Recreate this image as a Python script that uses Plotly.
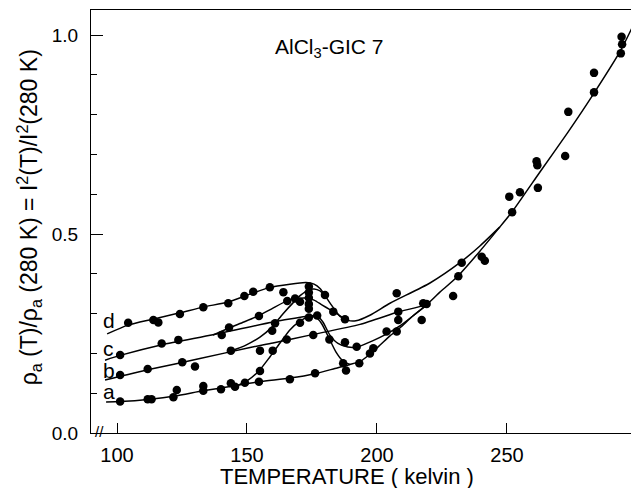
import plotly.graph_objects as go

# ---------------- data ----------------
# temperature (K) and normalized resistivity rho_a(T)/rho_a(280 K)
dot_T = [104.3, 114.0, 115.9, 124.2, 133.2, 142.8, 149.0, 152.4, 158.8,
         101.2, 117.2, 123.6, 140.3, 143.1, 154.6, 160.8, 159.7,
         101.2, 111.8, 125.1, 130.0, 143.8, 155.0, 159.9, 155.0,
         101.2, 111.8, 113.3, 121.7, 123.0, 133.2, 133.2, 140.0, 143.8, 145.4, 149.2, 154.6,
         164.0, 165.5, 168.5, 170.4, 173.8, 173.8, 173.8, 173.8, 173.8, 180.0, 183.2, 187.7,
         165.3, 170.4, 173.8, 177.0, 175.5, 181.7, 187.7, 192.2, 203.7,
         166.5, 176.2, 187.0, 188.1, 193.2, 197.3, 198.6,
         207.6, 208.2, 208.2, 207.6, 217.8, 219.1, 217.2, 229.3, 232.6, 240.3, 241.5,
         231.3, 250.9, 255.0, 252.0, 261.4, 261.7, 261.9, 272.4, 273.6, 283.5, 283.5,
         294.1, 294.3, 293.8]
dot_R = [0.277, 0.284, 0.278, 0.299, 0.316, 0.326, 0.344, 0.355, 0.366,
         0.196, 0.225, 0.234, 0.246, 0.265, 0.294, 0.276, 0.257,
         0.146, 0.161, 0.178, 0.167, 0.207, 0.207, 0.207, 0.156,
         0.079, 0.085, 0.085, 0.090, 0.108, 0.118, 0.106, 0.110, 0.125, 0.116, 0.126, 0.129,
         0.354, 0.332, 0.338, 0.330, 0.368, 0.353, 0.340, 0.324, 0.312, 0.347, 0.305, 0.286,
         0.235, 0.277, 0.290, 0.295, 0.246, 0.235, 0.228, 0.217, 0.255,
         0.135, 0.150, 0.175, 0.157, 0.175, 0.200, 0.213,
         0.351, 0.305, 0.284, 0.255, 0.326, 0.324, 0.284, 0.344, 0.428, 0.443, 0.433,
         0.394, 0.594, 0.605, 0.555, 0.683, 0.673, 0.616, 0.696, 0.807, 0.905, 0.856,
         0.996, 0.977, 0.954]

# run d: baseline, peak, drop and rise to the common curve
d_T = [96.2, 104.2, 113.8, 124.2, 133.5, 142.7, 151.2, 158.8, 166.5, 172.7, 175.8, 178.1,
       181.9, 185.8, 188.8, 191.9, 197.3, 205.0, 220.4, 231.9, 239.6, 247.3]
d_R = [0.249, 0.271, 0.286, 0.302, 0.317, 0.329, 0.349, 0.366, 0.374, 0.378, 0.374, 0.363,
       0.327, 0.293, 0.283, 0.282, 0.296, 0.326, 0.377, 0.428, 0.470, 0.518]

# run c: baseline, drop and rise
c_T = [95.4, 101.2, 117.3, 136.9, 160.0, 174.2, 176.9, 179.2, 181.9, 185.0, 188.8, 192.3,
       198.1, 203.8, 208.8, 213.8, 219.2]
c_R = [0.183, 0.195, 0.222, 0.247, 0.279, 0.294, 0.295, 0.279, 0.246, 0.225, 0.216, 0.216,
       0.231, 0.249, 0.269, 0.294, 0.322]

# run b: nearly straight to the common curve
b_T = [95.4, 112.7, 131.9, 151.2, 160.0, 174.2, 193.5, 208.1, 219.2, 224.2, 230.8, 239.6, 247.3]
b_R = [0.133, 0.160, 0.187, 0.215, 0.226, 0.246, 0.273, 0.304, 0.324, 0.354, 0.392, 0.457, 0.518]

# run a: baseline and rise
a_T = [95.8, 101.2, 112.7, 122.3, 133.1, 144.6, 155.0, 166.5, 176.2, 183.8, 189.6, 193.5,
       197.3, 201.2, 205.0, 208.8, 213.8, 219.2]
a_R = [0.078, 0.079, 0.085, 0.093, 0.106, 0.118, 0.129, 0.138, 0.149, 0.162, 0.172, 0.180,
       0.198, 0.221, 0.244, 0.264, 0.294, 0.322]

# steep branches (transition)
sa_T = [145.4, 150.0, 154.6, 158.8, 162.7, 166.5, 170.4, 173.8, 176.5, 178.8, 181.5, 184.2, 186.9, 189.6]
sa_R = [0.117, 0.131, 0.156, 0.191, 0.226, 0.259, 0.281, 0.293, 0.291, 0.274, 0.239, 0.204, 0.181, 0.172]
sb_T = [143.8, 149.6, 155.0, 159.6, 163.8, 167.7, 170.8, 173.5, 175.8, 178.1, 180.4]
sb_R = [0.206, 0.221, 0.241, 0.266, 0.299, 0.327, 0.347, 0.359, 0.362, 0.357, 0.342]
sc_T = [136.9, 143.1, 148.8, 154.6, 160.0, 165.4, 169.2, 172.7, 175.8, 178.8, 181.9, 185.0, 187.7]
sc_R = [0.246, 0.264, 0.279, 0.295, 0.314, 0.332, 0.338, 0.339, 0.334, 0.322, 0.310, 0.298, 0.286]

# common high-temperature curve
m_T = [247.3, 251.9, 262.7, 273.5, 283.5, 293.8, 299.2]
m_R = [0.518, 0.555, 0.656, 0.756, 0.854, 0.962, 1.033]

run_labels = ["a", "b", "c", "d"]
run_label_T = [96.9, 96.9, 96.9, 96.9]
run_label_R = [0.105, 0.156, 0.213, 0.283]

x_ticks = [100, 150, 200, 250]
y_ticks = [0.0, 0.5, 1.0]
y_ticktext = ["0.0", "0.5", "1.0"]

FONT = "Liberation Sans"

fig = go.Figure()
line_style = dict(color="black", width=1.5, shape="spline", smoothing=0.6)
for xs, ys in [(d_T, d_R), (c_T, c_R), (b_T, b_R), (a_T, a_R),
               (sa_T, sa_R), (sb_T, sb_R), (sc_T, sc_R), (m_T, m_R)]:
    fig.add_trace(go.Scatter(x=xs, y=ys, mode="lines", line=line_style,
                             hoverinfo="skip", showlegend=False))

fig.add_trace(go.Scatter(x=dot_T, y=dot_R, mode="markers",
                         marker=dict(color="black", size=8.5),
                         showlegend=False))

for lab, lx, ly in zip(run_labels, run_label_T, run_label_R):
    fig.add_annotation(x=lx, y=ly, text=lab, showarrow=False,
                       xanchor="center", yanchor="middle",
                       font=dict(family=FONT, size=21, color="black"))

fig.add_annotation(x=181.9, y=0.967, text="AlCl<sub>3</sub>-GIC 7", showarrow=False,
                   xanchor="center", yanchor="middle",
                   font=dict(family=FONT, size=21, color="black"))

# axis break mark
fig.add_annotation(x=93.2, y=0.004, text="//", showarrow=False,
                   xanchor="center", yanchor="middle",
                   font=dict(family=FONT, size=15, color="black"))

fig.add_annotation(xref="paper", yref="paper", x=-0.113, y=0.51,
                   xanchor="center", yanchor="middle",
                   text="ρ<sub>a</sub> (T)/ρ<sub>a</sub> (280 K) = I<sup>2</sup>(T)/I<sup>2</sup>(280 K)",
                   textangle=-90, showarrow=False,
                   font=dict(family=FONT, size=23, color="black"))
fig.add_annotation(xref="paper", yref="paper", x=0.467, y=-0.102,
                   xanchor="center", yanchor="middle",
                   text="TEMPERATURE ( kelvin )", showarrow=False,
                   font=dict(family=FONT, size=22, color="black"))

fig.update_layout(
    width=639, height=488,
    margin=dict(l=83, r=8, t=2, b=63),
    paper_bgcolor="white", plot_bgcolor="white",
    showlegend=False,
    xaxis=dict(range=[90, 300.8], tickvals=x_ticks, ticks="inside", ticklen=10,
               tickwidth=1.2, tickcolor="black", showline=True, linecolor="black",
               linewidth=1.2, mirror=True, showgrid=False, zeroline=False,
               ticklabelstandoff=4,
               tickfont=dict(family=FONT, size=20, color="black")),
    yaxis=dict(range=[0, 1.063], tickvals=y_ticks, ticktext=y_ticktext, ticks="inside",
               ticklen=12, tickwidth=1.2, tickcolor="black", showline=True,
               linecolor="black", linewidth=1.2, showgrid=False, zeroline=False,
               ticklabelstandoff=8,
               tickfont=dict(family=FONT, size=19, color="black"),
               minor=dict(dtick=0.1, ticks="inside", ticklen=6, tickcolor="black",
                          tickwidth=1.2, showgrid=False)),
)

fig.write_html("out.html")
